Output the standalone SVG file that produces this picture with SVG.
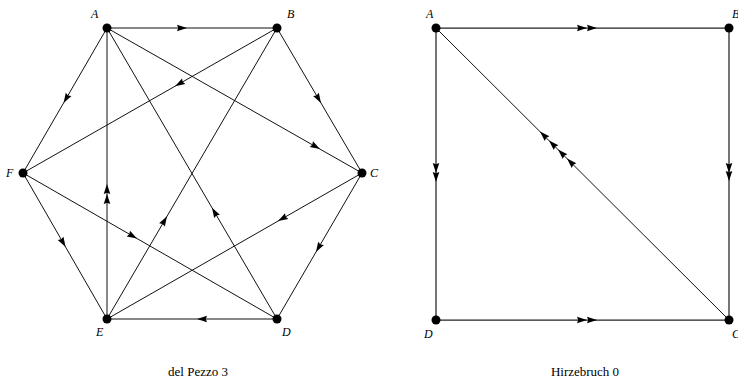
<svg xmlns="http://www.w3.org/2000/svg" width="738" height="381" viewBox="0 0 738 381">
<style>
.e{stroke:#111;stroke-width:1;fill:none}
.s{stroke:#222;stroke-width:1.25;fill:none}
.n{fill:#000}
.lb{font-family:"Liberation Serif","DejaVu Serif",serif;font-style:italic;font-size:12px;fill:#000}
.cap{font-family:"Liberation Serif","DejaVu Serif",serif;font-size:13px;fill:#000;text-anchor:middle}
</style>
<defs>
<path id="ah" d="M0,0 L-10,-3.3 L-8.8,0 L-10,3.3 Z" fill="#000"/>
</defs>
<rect width="738" height="381" fill="#fff"/>
<g id="connectors">
<line class="e" x1="107" y1="28" x2="277" y2="28"/>
<line class="e" x1="107" y1="28" x2="23" y2="173"/>
<line class="e" x1="277" y1="28" x2="23" y2="173"/>
<line class="e" x1="277" y1="28" x2="362" y2="173"/>
<line class="e" x1="107" y1="28" x2="362" y2="173"/>
<line class="e" x1="107" y1="319" x2="107" y2="28"/>
<line class="e" x1="277" y1="319" x2="107" y2="28"/>
<line class="e" x1="107" y1="319" x2="277" y2="28"/>
<line class="e" x1="23" y1="173" x2="277" y2="319"/>
<line class="e" x1="23" y1="173" x2="107" y2="319"/>
<line class="e" x1="362" y1="173" x2="107" y2="319"/>
<line class="e" x1="362" y1="173" x2="277" y2="319"/>
<line class="e" x1="277" y1="319" x2="107" y2="319"/>
<use href="#ah" transform="translate(187,28)"/>
<use href="#ah" transform="translate(63.6,103) rotate(120.1)"/>
<use href="#ah" transform="translate(175,86.2) rotate(150.3)"/>
<use href="#ah" transform="translate(321,103) rotate(59.6)"/>
<use href="#ah" transform="translate(320,149.1) rotate(29.6)"/>
<use href="#ah" transform="translate(107,184) rotate(-90)"/>
<use href="#ah" transform="translate(107,194) rotate(-90)"/>
<use href="#ah" transform="translate(212,207.8) rotate(-120.3)"/>
<use href="#ah" transform="translate(167,216.3) rotate(-59.7)"/>
<use href="#ah" transform="translate(137,238.5) rotate(29.9)"/>
<use href="#ah" transform="translate(65.6,247) rotate(60.1)"/>
<use href="#ah" transform="translate(278,221) rotate(150.2)"/>
<use href="#ah" transform="translate(316,252) rotate(120.2)"/>
<use href="#ah" transform="translate(197,319) rotate(180)"/>
<line class="s" x1="436" y1="28" x2="729" y2="28"/>
<line class="s" x1="436" y1="28" x2="436" y2="320"/>
<line class="s" x1="729" y1="28" x2="729" y2="320"/>
<line class="s" x1="436" y1="320" x2="729" y2="320"/>
<line class="e" x1="729" y1="320" x2="436" y2="28"/>
<use href="#ah" transform="translate(587,28)"/>
<use href="#ah" transform="translate(597,28)"/>
<use href="#ah" transform="translate(587,320)"/>
<use href="#ah" transform="translate(597,320)"/>
<use href="#ah" transform="translate(436,173) rotate(90)"/>
<use href="#ah" transform="translate(436,182) rotate(90)"/>
<use href="#ah" transform="translate(729,173) rotate(90)"/>
<use href="#ah" transform="translate(729,181) rotate(90)"/>
<use href="#ah" transform="translate(540,131.6) rotate(-135.1)"/>
<use href="#ah" transform="translate(549,140.6) rotate(-135.1)"/>
<use href="#ah" transform="translate(558,149.6) rotate(-135.1)"/>
<use href="#ah" transform="translate(567,158.5) rotate(-135.1)"/>
</g>
<g id="dp-A"><circle class="n" cx="107" cy="28" r="4.5"/><text class="lb" x="91" y="18">A</text></g>
<g id="dp-B"><circle class="n" cx="277" cy="28" r="4.5"/><text class="lb" x="287" y="18">B</text></g>
<g id="dp-C"><circle class="n" cx="362" cy="173" r="4.5"/><text class="lb" x="370" y="177">C</text></g>
<g id="dp-D"><circle class="n" cx="277" cy="319" r="4.5"/><text class="lb" x="282" y="336">D</text></g>
<g id="dp-E"><circle class="n" cx="107" cy="319" r="4.5"/><text class="lb" x="96" y="336">E</text></g>
<g id="dp-F"><circle class="n" cx="23" cy="173" r="4.5"/><text class="lb" x="6" y="177">F</text></g>
<g id="h-A"><circle class="n" cx="436" cy="28" r="4.5"/><text class="lb" x="426" y="18">A</text></g>
<g id="h-B"><circle class="n" cx="729" cy="28" r="4.5"/><text class="lb" x="732" y="18">B</text></g>
<g id="h-C"><circle class="n" cx="729" cy="320" r="4.5"/><text class="lb" x="732" y="338">C</text></g>
<g id="h-D"><circle class="n" cx="436" cy="320" r="4.5"/><text class="lb" x="424" y="338">D</text></g>
<g id="captions">
<text class="cap" x="198" y="376">del Pezzo 3</text>
<text class="cap" x="585" y="376">Hirzebruch 0</text>
</g>
</svg>
